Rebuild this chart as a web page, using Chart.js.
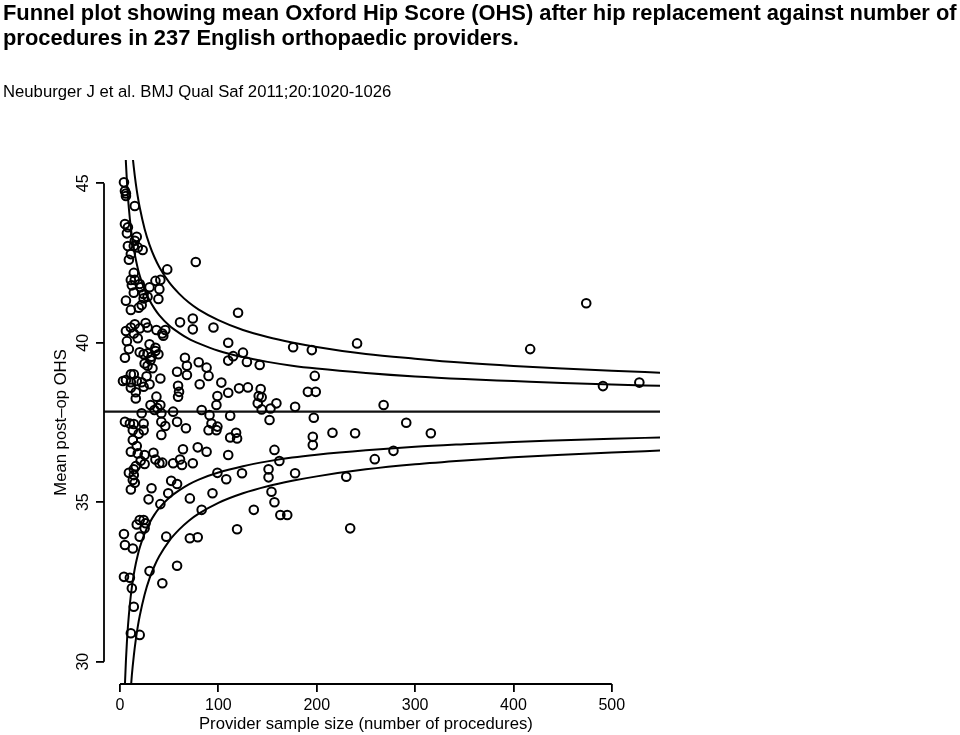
<!DOCTYPE html>
<html>
<head>
<meta charset="utf-8">
<script src="https://cdn.jsdelivr.net/npm/chart.js@4.4.1/dist/chart.umd.min.js"></script>
<style>
  body { margin: 0; background: #fff; }
  #wrap { position: relative; width: 960px; height: 735px; }
  #chart { position: absolute; left: 0; top: 0; }
  .head { position: absolute; left: 3px; font-family: "Liberation Sans", Arial, sans-serif; color: #000; white-space: nowrap; }
  #title { top: -0.5px; font-weight: bold; font-size: 21.9px; line-height: 25px; }
  #source { top: 82px; font-size: 16.7px; line-height: 19px; }
</style>
</head>
<body>
<div id="wrap">
  <canvas id="chart" width="960" height="735"></canvas>
  <div id="title" class="head">Funnel plot showing mean Oxford Hip Score (OHS) after hip replacement against number of<br>procedures in 237 English orthopaedic providers.</div>
  <div id="source" class="head">Neuburger J et al. BMJ Qual Saf 2011;20:1020-1026</div>
</div>
<script>
// provider points: number of procedures and mean post-op OHS
const sampleSize = [
  4, 5, 6, 6, 15, 5, 8, 7, 17, 15, 8, 14, 18, 11, 23, 77, 48, 14, 11, 15, 20, 36, 41, 30, 40, 21, 14, 24,
  6, 11, 22, 24, 28, 39, 15, 11, 6, 20, 28, 14, 7, 18, 37, 43, 46, 44, 61, 74, 74, 95,
  30, 36, 24, 28, 32, 39, 36, 25, 28, 31, 5, 66, 68, 68, 80, 88, 90, 58,
  11, 14, 6, 11, 17, 22, 3, 24, 30, 16, 11, 41, 59, 60, 59, 81, 37, 31, 41, 35, 22, 42, 54, 83, 91,
  5, 10, 14, 24, 13, 24, 42, 46, 42, 58, 67, 90, 93, 98, 13, 17, 11, 18, 25, 34, 36, 25, 16, 14, 9, 14, 13, 15,
  40, 43, 54, 61, 63, 74, 64, 79, 88, 52, 58, 32, 49, 29, 41, 71, 83, 20, 24, 26, 25, 4, 20, 47, 71, 79, 5, 13,
  58, 30, 4, 10, 43, 12, 14, 11, 20,
  120, 110, 125, 115, 110, 129, 142, 176, 195, 198, 103, 110, 121, 130, 143, 141, 144, 140, 144, 153,
  159, 178, 191, 199, 112, 152, 197, 99, 98, 99,
  118, 112, 119, 196, 196, 216, 110, 157, 162, 99, 108, 124, 151, 151, 178, 94, 154, 157, 136, 163, 170, 119,
  241, 417, 474, 491, 528, 268, 239, 291, 316, 278, 259, 230, 234,
  9, 12, 19, 26, 9, 20, 27, 16, 33, 19, 21, 11, 38, 17
]
const meanOhs = [
  45.03, 44.76, 44.68, 44.60, 44.29, 43.72, 43.62, 43.43, 43.32, 43.20, 43.03, 43.03, 42.99, 42.78, 42.91, 42.53, 42.30, 42.19, 41.97, 41.97, 41.84, 41.94, 41.97, 41.74, 41.68, 41.74, 41.57, 41.53,
  41.32, 41.03, 41.18, 41.39, 41.44, 41.37, 40.58, 40.48, 40.37, 40.45, 40.48, 40.29, 40.05, 40.14, 40.40, 40.29, 40.40, 40.22, 40.64, 40.76, 40.42, 40.48,
  39.95, 39.84, 39.64, 39.67, 39.56, 39.64, 39.74, 39.35, 39.28, 39.46, 39.53, 39.53, 39.28, 38.99, 39.39, 39.22, 38.96, 39.09,
  39.01, 39.01, 38.83, 38.76, 38.80, 38.76, 38.80, 38.62, 38.70, 38.45, 38.59, 38.88, 38.65, 38.46, 38.31, 38.70, 38.31, 38.05, 38.05, 37.89, 37.79, 37.79, 37.84, 37.89, 37.73,
  37.52, 37.47, 37.45, 37.47, 37.26, 37.26, 37.52, 37.39, 37.11, 37.52, 37.32, 37.26, 37.47, 37.26, 36.95, 36.76, 36.58, 36.53, 36.48, 36.55, 36.34, 36.20, 36.13, 36.03, 35.92, 35.85, 35.70, 35.61,
  36.22, 36.24, 36.22, 36.34, 36.17, 36.22, 36.66, 36.72, 36.58, 35.67, 35.57, 35.44, 35.28, 35.09, 34.94, 35.12, 34.76, 34.44, 34.44, 34.34, 34.18, 34.00, 33.92, 33.92, 33.87, 33.90, 33.66, 33.55,
  33.01, 32.84, 32.66, 32.63, 32.46, 32.30, 31.72, 30.89, 30.84,
  40.94, 40.00, 39.69, 39.58, 39.44, 39.40, 39.30, 39.86, 39.77, 38.96, 38.75, 38.43, 38.57, 38.60, 38.55, 38.33, 38.29, 38.10, 37.91, 37.94,
  38.10, 37.99, 38.46, 38.46, 37.71, 37.58, 37.65, 38.33, 38.05, 37.37,
  37.18, 37.03, 37.00, 37.05, 36.79, 37.18, 36.48, 36.64, 36.29, 35.92, 35.72, 35.91, 36.03, 35.78, 35.91, 35.28, 35.33, 35.00, 34.76, 34.60, 34.60, 34.15,
  39.98, 39.80, 41.24, 38.64, 38.75, 38.05, 37.16, 37.49, 37.16, 36.61, 36.35, 35.80, 34.18,
  42.60, 41.80, 41.10, 40.62, 39.80, 39.70, 38.95, 38.25, 39.20, 37.15, 36.30, 35.40, 37.95, 34.30
]

const overallMean = 37.84

// control limits
const limitN = [4, 5, 6, 7, 8, 9, 10, 12, 14, 16, 18, 20, 25, 30, 35, 40, 50, 60, 70, 80, 100, 125, 150, 175, 200, 250, 300, 350, 400, 450, 500, 550]
const upperInner = [47.39, 46.38, 45.64, 45.06, 44.59, 44.21, 43.88, 43.35, 42.94, 42.62, 42.34, 42.11, 41.66, 41.33, 41.07, 40.86, 40.54, 40.31, 40.12, 39.98, 39.75, 39.55, 39.40, 39.28, 39.19, 39.05, 38.94, 38.86, 38.80, 38.74, 38.69, 38.65]
const lowerInner = [28.29, 29.30, 30.04, 30.62, 31.09, 31.47, 31.80, 32.33, 32.74, 33.07, 33.34, 33.57, 34.02, 34.35, 34.61, 34.82, 35.14, 35.37, 35.56, 35.71, 35.93, 36.13, 36.28, 36.40, 36.49, 36.63, 36.74, 36.82, 36.89, 36.94, 36.99, 37.03]
const upperOuter = [52.17, 50.65, 49.54, 48.67, 47.97, 47.39, 46.90, 46.11, 45.50, 45.00, 44.59, 44.25, 43.57, 43.07, 42.68, 42.37, 41.89, 41.54, 41.26, 41.04, 40.71, 40.40, 40.18, 40.01, 39.87, 39.65, 39.50, 39.37, 39.27, 39.19, 39.12, 39.06]
const lowerOuter = [23.51, 25.03, 26.14, 27.01, 27.71, 28.29, 28.78, 29.57, 30.18, 30.68, 31.09, 31.43, 32.11, 32.61, 33.00, 33.31, 33.79, 34.14, 34.42, 34.64, 34.98, 35.28, 35.50, 35.67, 35.81, 36.03, 36.19, 36.31, 36.41, 36.49, 36.56, 36.62]

const xTicks = [0, 100, 200, 300, 400, 500]
const yTicks = [30, 35, 40, 45]

const fontFamily = '"Liberation Sans", Arial, sans-serif'

const limitLine = (values) => ({
  data: limitN.map((n, i) => ({ x: n, y: values[i] })),
  showLine: true,
  borderColor: '#000',
  borderWidth: 2,
  pointRadius: 0,
  fill: false,
  cubicInterpolationMode: 'monotone',
  clip: 0
})

// R style detached axes and axis titles
const baseAxes = {
  id: 'baseAxes',
  afterDraw(chart) {
    const { ctx, chartArea, scales: { x, y } } = chart
    ctx.save()
    ctx.strokeStyle = '#000'
    ctx.lineWidth = 1.8
    ctx.beginPath()
    ctx.moveTo(x.getPixelForValue(xTicks[0]), chartArea.bottom)
    ctx.lineTo(x.getPixelForValue(xTicks[xTicks.length - 1]), chartArea.bottom)
    ctx.moveTo(chartArea.left, y.getPixelForValue(yTicks[0]))
    ctx.lineTo(chartArea.left, y.getPixelForValue(yTicks[yTicks.length - 1]))
    ctx.stroke()

    ctx.fillStyle = '#000'
    ctx.font = '16.7px ' + fontFamily
    ctx.textAlign = 'center'
    ctx.textBaseline = 'alphabetic'
    ctx.fillText('Provider sample size (number of procedures)', (x.getPixelForValue(xTicks[0]) + x.getPixelForValue(xTicks[5])) / 2, chartArea.bottom + 45)

    ctx.translate(61, (y.getPixelForValue(yTicks[0]) + y.getPixelForValue(yTicks[3])) / 2)
    ctx.rotate(-Math.PI / 2)
    ctx.textBaseline = 'middle'
    ctx.fillText('Mean post–op OHS', 0, 0)
    ctx.restore()
  }
}

new Chart(document.getElementById('chart'), {
  type: 'scatter',
  data: {
    datasets: [
      {
        label: 'Providers',
        data: sampleSize.map((n, i) => ({ x: n, y: meanOhs[i] })),
        pointRadius: 4.3,
        pointHoverRadius: 4.3,
        pointBorderWidth: 2,
        pointBorderColor: '#000',
        pointBackgroundColor: 'rgba(0,0,0,0)'
      },
      {
        label: 'Mean',
        data: [{ x: -16.3, y: overallMean }, { x: 549, y: overallMean }],
        showLine: true,
        borderColor: '#111',
        borderWidth: 2.2,
        pointRadius: 0,
        clip: 0
      },
      limitLine(upperInner),
      limitLine(lowerInner),
      limitLine(upperOuter),
      limitLine(lowerOuter)
    ]
  },
  options: {
    responsive: false,
    animation: false,
    events: [],
    layout: { padding: { top: 160, right: 300, bottom: 0, left: 0 } },
    plugins: {
      legend: { display: false },
      tooltip: { enabled: false }
    },
    scales: {
      x: {
        type: 'linear',
        min: -16.3,
        max: 549,
        afterBuildTicks: (scale) => { scale.ticks = xTicks.map(v => ({ value: v })) },
        afterFit: (scale) => { scale.height = 51 },
        border: { display: false },
        grid: { drawOnChartArea: false, drawTicks: true, tickLength: 8, color: '#000', lineWidth: 1.8 },
        ticks: { color: '#000', font: { family: fontFamily, size: 16 }, padding: 4, maxRotation: 0, autoSkip: false, callback: v => String(v) }
      },
      y: {
        type: 'linear',
        min: 29.3,
        max: 45.73,
        afterBuildTicks: (scale) => { scale.ticks = yTicks.map(v => ({ value: v })) },
        afterFit: (scale) => { scale.width = 104 },
        border: { display: false },
        grid: { drawOnChartArea: false, drawTicks: true, tickLength: 8, color: '#000', lineWidth: 1.8 },
        ticks: { color: '#000', font: { family: fontFamily, size: 16 }, padding: 4, minRotation: 90, maxRotation: 90, crossAlign: 'center', autoSkip: false, callback: v => String(v) }
      }
    }
  },
  plugins: [baseAxes]
})
</script>
</body>
</html>
